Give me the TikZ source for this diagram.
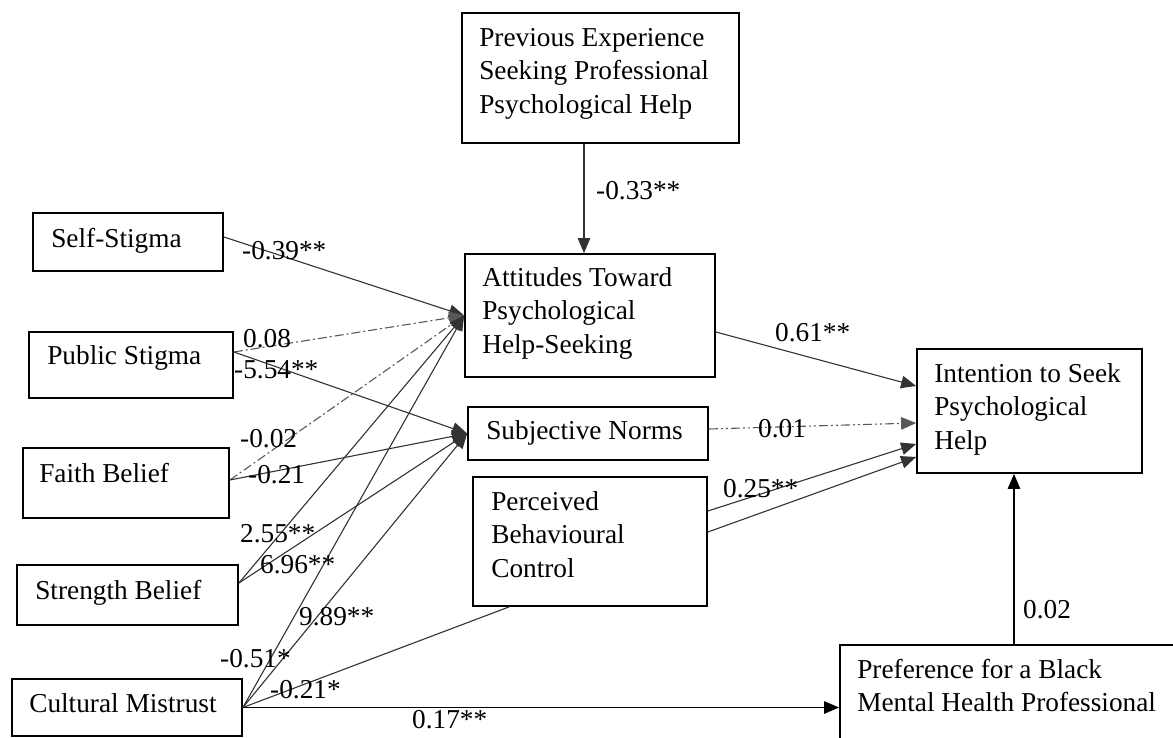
\documentclass[tikz,border=0pt]{standalone}
\usepackage{fontspec}
\setmainfont{Liberation Serif}
\usetikzlibrary{arrows.meta,calc}
\begin{document}
\begin{tikzpicture}[x=1pt,y=-1pt,
  box/.style={draw=black,line width=1.8pt,rectangle,inner sep=0pt},
  boxtext/.style={anchor=north west,inner sep=0pt,align=left,font=\fontsize{27.3}{33.5}\selectfont},
  lab/.style={anchor=base west,inner sep=0pt,font=\fontsize{27.3}{33.5}\selectfont},
  conn/.style={draw=black!80,line width=1.1pt},
  arr/.style={conn,-{Triangle[length=15pt,width=12.5pt]}},
  dashdot/.style={dash pattern=on 9pt off 3pt on 2pt off 3pt},
  dashdotdot/.style={dash pattern=on 9pt off 3pt on 2pt off 3pt on 2pt off 3pt}]
\clip (0,0) rectangle (1173,738);
\fill[white] (0,0) rectangle (1173,738);
% boxes
\node[box,minimum width=277pt,minimum height=130pt] (prev) at (600.5,78) {};
\node[box,minimum width=190pt,minimum height=58pt] (ss) at (128,242) {};
\node[box,minimum width=204pt,minimum height=66pt] (ps) at (131,365) {};
\node[box,minimum width=206pt,minimum height=70pt] (fb) at (126,483) {};
\node[box,minimum width=221pt,minimum height=60pt] (sb) at (127.5,595) {};
\node[box,minimum width=230pt,minimum height=57pt] (cm) at (127,707.5) {};
\node[box,minimum width=250pt,minimum height=123pt] (att) at (590,315.5) {};
\node[box,minimum width=240pt,minimum height=53pt] (sn) at (588,433.5) {};
\node[box,minimum width=234pt,minimum height=129pt] (pbc) at (590,541.5) {};
\node[box,minimum width=225pt,minimum height=124pt] (int) at (1029.5,411) {};
\node[box,minimum width=350pt,minimum height=115pt] (pref) at (1015,702.5) {};
% box texts
\node[boxtext] (prevT) at ($(prev.north west)+(18,10)$) {\rule{0pt}{24pt}Previous Experience\\Seeking Professional\\Psychological Help};
\node[boxtext] (ssT) at ($(ss.north west)+(19,11)$) {\rule{0pt}{24pt}Self-Stigma};
\node[boxtext] (psT) at ($(ps.north west)+(19,9)$) {\rule{0pt}{24pt}Public Stigma};
\node[boxtext] (fbT) at ($(fb.north west)+(17,11)$) {\rule{0pt}{24pt}Faith Belief};
\node[boxtext] (sbT) at ($(sb.north west)+(19,11)$) {\rule{0pt}{24pt}Strength Belief};
\node[boxtext] (cmT) at ($(cm.north west)+(18,10)$) {\rule{0pt}{24pt}Cultural Mistrust};
\node[boxtext] (attT) at ($(att.north west)+(18,9)$) {\rule{0pt}{24pt}Attitudes Toward\\Psychological\\Help-Seeking};
\node[boxtext] (snT) at ($(sn.north west)+(19,9)$) {\rule{0pt}{24pt}Subjective Norms};
\node[boxtext] (pbcT) at ($(pbc.north west)+(19,10)$) {\rule{0pt}{24pt}Perceived\\Behavioural\\Control};
\node[boxtext] (intT) at ($(int.north west)+(18,10)$) {\rule{0pt}{24pt}Intention to Seek\\Psychological\\Help};
\node[boxtext] (prefT) at ($(pref.north west)+(18,10)$) {\rule{0pt}{24pt}Preference for a Black\\Mental Health Professional};
% connectors to attitudes
\draw[arr] ($(prev.south)+(-16.5,0)$) -- ($(att.north)+(-6,0)$);
\draw[arr] ($(ss.east)+(0,-5)$) -- (att.west);
\draw[arr,dashdot,draw=black!65] ($(ps.east)+(0,-13)$) -- (att.west);
\draw[arr] ($(ps.east)+(0,-13)$) -- (sn.west);
\draw[arr,dashdot,draw=black!65] ($(fb.east)+(0,-3)$) -- (att.west);
\draw[arr] ($(fb.east)+(0,-3)$) -- (sn.west);
\draw[arr] ($(sb.east)+(0,-12)$) -- (att.west);
\draw[arr] ($(sb.east)+(0,-12)$) -- (sn.west);
\draw[arr] (cm.east) -- (att.west);
\draw[arr] (cm.east) -- (sn.west);
\draw[conn] (cm.east) -- ($(pbc.south west)+(37,0)$);
\draw[arr,draw=black] (cm.east) -- (cm.east -| pref.west);
% connectors to intention
\draw[arr] ($(att.east)+(0,16.5)$) -- ($(int.west)+(0,-25)$);
\draw[arr,dashdotdot,draw=black!65] ($(sn.east)+(0,-4.5)$) -- ($(int.west)+(0,12)$);
\draw[arr] ($(pbc.east)+(0,-30.5)$) -- ($(int.west)+(0,33)$);
\draw[arr] ($(pbc.east)+(0,-9.5)$) -- ($(int.west)+(0,46)$);
\coordinate (pi) at ($(int.south)+(-15.5,0)$);
\draw[arr,draw=black] (pi |- pref.north) -- (pi);
% labels
\node[lab] (l1) at (596,200) {-0.33**};
\node[lab] (l2) at (242,260) {-0.39**};
\node[lab] (l3) at (243,347) {0.08};
\node[lab] (l4) at (234,378) {-5.54**};
\node[lab] (l5) at (240,447) {-0.02};
\node[lab] (l6) at (248,483) {-0.21};
\node[lab] (l7) at (240,542) {2.55**};
\node[lab] (l8) at (260,573) {6.96**};
\node[lab] (l9) at (299,625) {9.89**};
\node[lab] (l10) at (220,667) {-0.51*};
\node[lab] (l11) at (270,698) {-0.21*};
\node[lab] (l12) at (412,728) {0.17**};
\node[lab] (l13) at (775,341) {0.61**};
\node[lab] (l14) at (758,437) {0.01};
\node[lab] (l15) at (723,497) {0.25**};
\node[lab] (l16) at (1023,618) {0.02};
\end{tikzpicture}
\end{document}
